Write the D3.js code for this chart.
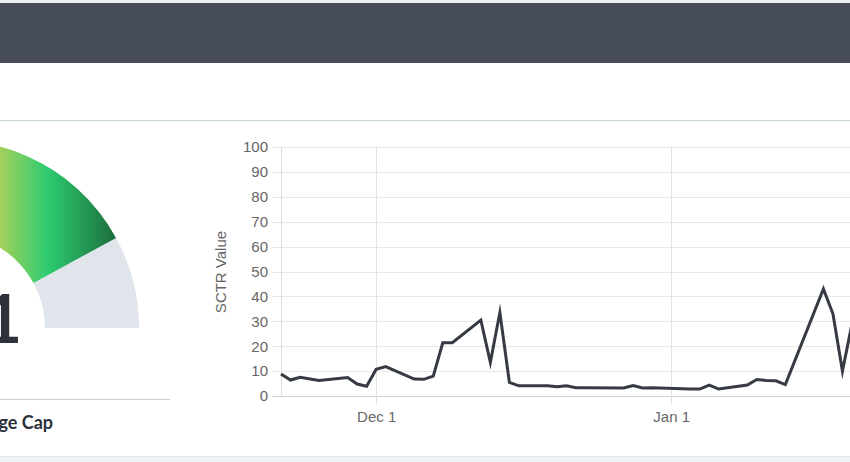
<!DOCTYPE html>
<html>
<head>
<meta charset="utf-8">
<script src="https://cdn.jsdelivr.net/npm/d3@7/dist/d3.min.js"></script>
<style>
  html, body { margin: 0; padding: 0; background: #ffffff; }
  svg { display: block; }
</style>
</head>
<body>
<svg id="chart" width="850" height="462"></svg>
<script>
// ---- data ----
const dates = [
  "2022-11-21","2022-11-22","2022-11-23","2022-11-25","2022-11-28","2022-11-29","2022-11-30",
  "2022-12-01","2022-12-02","2022-12-05","2022-12-06","2022-12-07","2022-12-08","2022-12-09",
  "2022-12-12","2022-12-13","2022-12-14","2022-12-15","2022-12-16","2022-12-19","2022-12-20",
  "2022-12-21","2022-12-22","2022-12-23","2022-12-27","2022-12-28","2022-12-29","2022-12-30",
  "2023-01-03","2023-01-04","2023-01-05","2023-01-06","2023-01-09","2023-01-10","2023-01-11",
  "2023-01-12","2023-01-13","2023-01-17","2023-01-18","2023-01-19","2023-01-20"
];
const sctrValues = [
  8.8, 6.4, 7.5, 6.2, 7.4, 4.8, 3.9,
  10.7, 11.8, 6.8, 6.7, 8.0, 21.4, 21.4,
  30.5, 13.5, 33.5, 5.5, 4.1, 4.1, 3.7,
  4.1, 3.3, 3.3, 3.2, 4.2, 3.2, 3.3,
  2.8, 2.8, 4.4, 2.8, 4.4, 6.6, 6.2,
  6.1, 4.6, 43.0, 33.0, 10.0, 29.0
];
const yTicks = [0, 10, 20, 30, 40, 50, 60, 70, 80, 90, 100];
const xTickDates = ["2022-12-01", "2023-01-01"];
const gaugeValue = 84.1;
const gaugeLabel = "84.1";
const gaugeCaption = "Large Cap";
const yAxisTitle = "SCTR Value";

// ---- setup ----
const svg = d3.select("#chart");
const parse = d3.utcParse("%Y-%m-%d");
const data = dates.map((d, i) => ({ date: parse(d), value: sctrValues[i] }));

// page chrome
svg.append("rect").attr("x", 0).attr("y", 0).attr("width", 850).attr("height", 3).attr("fill", "#eef1f4");
svg.append("rect").attr("x", 0).attr("y", 3).attr("width", 850).attr("height", 60).attr("fill", "#464c58");
svg.append("line").attr("x1", 0).attr("x2", 850).attr("y1", 120.5).attr("y2", 120.5)
  .attr("stroke", "#c6d4dd").attr("stroke-width", 1);
svg.append("rect").attr("x", 0).attr("y", 456).attr("width", 850).attr("height", 6).attr("fill", "#eef2f6");
svg.append("line").attr("x1", 0).attr("x2", 850).attr("y1", 456.5).attr("y2", 456.5)
  .attr("stroke", "#dde5ec").attr("stroke-width", 1);

// ---- gauge ----
const defs = svg.append("defs");
const gCx = -49, gCy = 328, gR = 188, gr = 94;
const grad = defs.append("linearGradient").attr("id", "gaugeGradLocal")
  .attr("gradientUnits", "userSpaceOnUse").attr("x1", 0 - gCx).attr("y1", 0).attr("x2", 118 - gCx).attr("y2", 0);
grad.append("stop").attr("offset", "0").attr("stop-color", "#a4d05b");
grad.append("stop").attr("offset", "0.4").attr("stop-color", "#2ecc71");
grad.append("stop").attr("offset", "1").attr("stop-color", "#1a6a3a");

const angleScale = d3.scaleLinear().domain([0, 100]).range([-Math.PI / 2, Math.PI / 2]);
const arc = d3.arc().innerRadius(gr).outerRadius(gR);
const gauge = svg.append("g").attr("transform", `translate(${gCx},${gCy})`);
gauge.append("path")
  .attr("d", arc({ startAngle: angleScale(gaugeValue), endAngle: angleScale(100) }))
  .attr("fill", "#dfe5eb");
gauge.append("path")
  .attr("d", arc({ startAngle: angleScale(0), endAngle: angleScale(gaugeValue) }))
  .attr("fill", "url(#gaugeGradLocal)");

svg.append("text")
  .attr("x", 22).attr("y", 343)
  .attr("text-anchor", "end")
  .attr("font-family", "Lato, sans-serif").attr("font-weight", 700)
  .attr("font-size", 67).attr("fill", "#2c313a")
  .text(gaugeLabel);

svg.append("line").attr("x1", 0).attr("x2", 170).attr("y1", 399.5).attr("y2", 399.5)
  .attr("stroke", "#c8cfd6").attr("stroke-width", 1);
svg.append("text")
  .attr("x", 53).attr("y", 429)
  .attr("text-anchor", "end")
  .attr("font-family", "Lato, sans-serif").attr("font-weight", 700)
  .attr("font-size", 18).attr("fill", "#2c313a")
  .text(gaugeCaption);

// ---- line chart ----
const plotLeft = 281, plotTop = 147, plotBottom = 396;
const dayPx = 295 / 31;
const x0 = parse("2022-11-21"), x1 = parse("2023-02-10");
const xScale = d3.scaleUtc().domain([x0, x1])
  .range([plotLeft, plotLeft + dayPx * ((x1 - x0) / 864e5)]);
const yScale = d3.scaleLinear().domain([0, 100]).range([plotBottom, plotTop]);

const axisFont = "'Liberation Sans', Arial, sans-serif";
const axisSize = 15;

// horizontal gridlines (with tick stubs)
svg.append("g").selectAll("line").data(yTicks).join("line")
  .attr("x1", plotLeft - 9).attr("x2", 850)
  .attr("y1", d => Math.round(yScale(d)) + 0.5).attr("y2", d => Math.round(yScale(d)) + 0.5)
  .attr("stroke", d => d === 0 ? "#cfcfcf" : "#e8e8e8").attr("stroke-width", 1);

// vertical gridlines at x ticks
const xTicks = xTickDates.map(parse);
svg.append("g").selectAll("line").data(xTicks).join("line")
  .attr("x1", d => Math.round(xScale(d)) + 0.5).attr("x2", d => Math.round(xScale(d)) + 0.5)
  .attr("y1", plotTop).attr("y2", plotBottom + 9)
  .attr("stroke", "#e2e2e2").attr("stroke-width", 1);

// left axis line
svg.append("line").attr("x1", plotLeft + 0.5).attr("x2", plotLeft + 0.5)
  .attr("y1", plotTop).attr("y2", plotBottom + 1)
  .attr("stroke", "#dcdcdc").attr("stroke-width", 1);

// y axis labels
const yAxis = d3.axisLeft(yScale).tickValues(yTicks).tickSize(0).tickPadding(13);
const yg = svg.append("g").attr("transform", `translate(${plotLeft},0)`).call(yAxis);
yg.select(".domain").remove();
yg.selectAll("text").attr("font-family", axisFont).attr("font-size", axisSize).attr("fill", "#666");

// x axis labels
const xAxis = d3.axisBottom(xScale).tickValues(xTicks).tickFormat(d3.utcFormat("%b %-d")).tickSize(0).tickPadding(15);
const xg = svg.append("g").attr("transform", `translate(0,${plotBottom})`).call(xAxis);
xg.select(".domain").remove();
xg.selectAll("text").attr("font-family", axisFont).attr("font-size", axisSize).attr("fill", "#666");

// y axis title
svg.append("text")
  .attr("transform", "translate(226,272) rotate(-90)")
  .attr("text-anchor", "middle")
  .attr("font-family", axisFont).attr("font-size", axisSize).attr("fill", "#666")
  .text(yAxisTitle);

// line
const line = d3.line().x(d => xScale(d.date)).y(d => yScale(d.value));
svg.append("path").datum(data)
  .attr("d", line)
  .attr("fill", "none")
  .attr("stroke", "#363b43")
  .attr("stroke-width", 3)
  .attr("stroke-linejoin", "miter")
  .attr("stroke-miterlimit", 10);
</script>
</body>
</html>
